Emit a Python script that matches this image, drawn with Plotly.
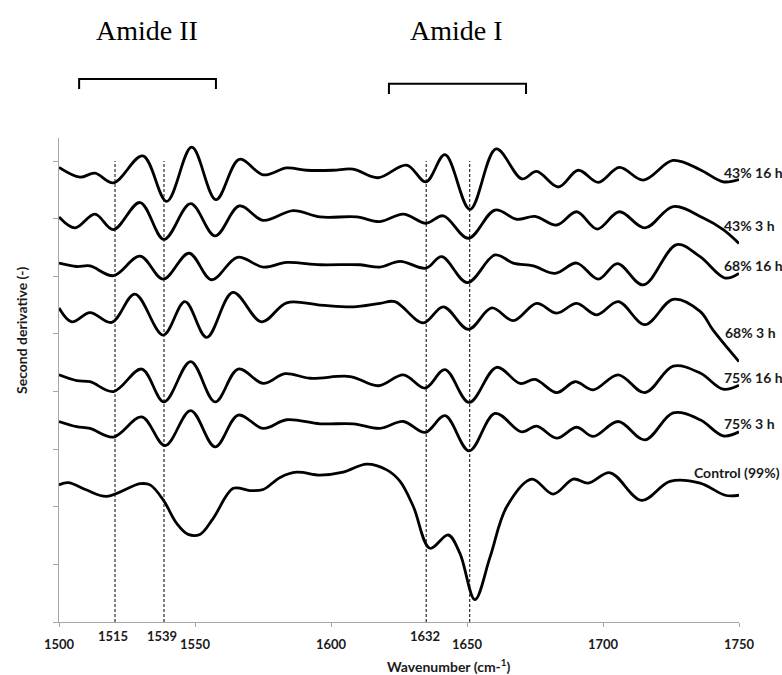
import plotly.graph_objects as go

# ---------------- data (wavenumber, cm-1 ; offset second-derivative, a.u.) ----------------
wn_43_16 = [1500, 1507.7, 1513.2, 1520, 1530.8, 1539.6, 1548.8, 1557.7, 1566.3, 1575.1, 1583.7, 1591.1,
            1600.7, 1608.1, 1617.3, 1627.8, 1634.9, 1641.9, 1651.1, 1660.7, 1670.2, 1675.6, 1683.6,
            1690.9, 1698.3, 1706, 1714.8, 1725.7, 1735.7, 1744.2, 1750]
y_43_16 = [7.89, 7.72, 7.79, 7.62, 8.09, 7.30, 8.24, 7.33, 8.03, 7.76, 7.88, 7.84,
           7.84, 7.86, 7.71, 7.93, 7.64, 8.11, 7.16, 8.21, 7.69, 7.82, 7.55,
           7.84, 7.63, 7.89, 7.67, 8.01, 7.85, 7.64, 7.68]

wn_43_3 = [1500, 1505.9, 1513.2, 1520, 1529.8, 1538.6, 1548.4, 1557.4, 1566.3, 1575.1, 1586.1, 1596,
           1609.4, 1618, 1626.6, 1634.9, 1641.3, 1650.5, 1660.3, 1668.3, 1675, 1683, 1690.3, 1697.9,
           1706, 1715.4, 1725.8, 1736.9, 1744.2, 1750]
y_43_3 = [7.03, 6.84, 7.08, 6.81, 7.28, 6.64, 7.26, 6.70, 7.22, 6.97, 7.14, 7.03,
          7.03, 6.95, 7.08, 6.92, 7.05, 6.66, 7.15, 6.99, 7.04, 6.89, 7.12, 6.82,
          7.12, 6.84, 7.21, 7.01, 6.81, 6.57]

wn_68_16 = [1500, 1506.5, 1511.4, 1520, 1529.8, 1538.3, 1547.8, 1556.1, 1565.6, 1575.1, 1583.7, 1596,
            1610.7, 1618, 1625.4, 1634.9, 1640.7, 1650.1, 1660.3, 1667, 1674.4, 1682.4, 1690.3, 1698.3,
            1705.3, 1714.8, 1727.1, 1735.7, 1744.9, 1750]
y_68_16 = [6.23, 6.17, 6.18, 6.01, 6.35, 5.95, 6.40, 5.94, 6.33, 6.16, 6.24, 6.20,
           6.20, 6.16, 6.26, 6.14, 6.34, 5.89, 6.37, 6.23, 6.18, 6.05, 6.23, 5.95,
           6.22, 5.85, 6.55, 6.34, 5.97, 6.05]

wn_68_3 = [1500, 1504.7, 1511.4, 1519.4, 1527.9, 1538.3, 1546.3, 1554.3, 1563.9, 1574.5, 1583.7, 1596,
           1608.2, 1618, 1623.5, 1633.9, 1641.3, 1650.5, 1659.1, 1667, 1675.6, 1683, 1690.3, 1697.7,
           1705.6, 1715.4, 1725.8, 1735.7, 1740.4, 1750]
y_68_3 = [5.45, 5.21, 5.37, 5.20, 5.69, 4.98, 5.56, 4.94, 5.72, 5.21, 5.54, 5.50,
          5.47, 5.53, 5.56, 5.19, 5.47, 5.08, 5.45, 5.23, 5.53, 5.36, 5.53, 5.33,
          5.56, 5.16, 5.60, 5.39, 5.07, 4.52]

wn_75_16 = [1500, 1506.5, 1511.4, 1520, 1530.4, 1538.6, 1548.4, 1557.4, 1565.9, 1575.1, 1583.1, 1592.3,
            1607, 1617.4, 1626.6, 1634.6, 1641.9, 1650.8, 1660.9, 1669.5, 1675, 1683, 1689.7, 1696.4,
            1705.6, 1715.4, 1725.8, 1735.7, 1744.2, 1750]
y_75_16 = [4.29, 4.19, 4.17, 4.00, 4.39, 3.82, 4.52, 3.82, 4.39, 4.14, 4.31, 4.23,
           4.26, 4.10, 4.29, 4.06, 4.38, 3.81, 4.42, 4.14, 4.21, 3.98, 4.17, 4.03,
           4.29, 3.98, 4.44, 4.32, 4.04, 4.11]

wn_75_3 = [1500, 1506.5, 1511.4, 1520, 1530.4, 1539, 1548.4, 1557.4, 1565.9, 1575.1, 1583.7, 1596,
           1608.2, 1618, 1626.6, 1634.6, 1641.9, 1650.8, 1660.3, 1670.1, 1675.6, 1683, 1690.3, 1696.4,
           1705.6, 1715.4, 1725.8, 1735.7, 1744.2, 1750]
y_75_3 = [3.48, 3.39, 3.36, 3.21, 3.56, 3.06, 3.67, 3.04, 3.59, 3.36, 3.51, 3.44,
          3.44, 3.36, 3.48, 3.29, 3.58, 2.97, 3.62, 3.30, 3.40, 3.19, 3.38, 3.22,
          3.48, 3.16, 3.63, 3.51, 3.23, 3.30]

wn_ctrl = [1500, 1503.4, 1510.2, 1517.5, 1529.8, 1533.5, 1538.3, 1543.3, 1547.5, 1551.8, 1556.7, 1564.1,
           1570.2, 1575.1, 1581.3, 1587.4, 1596, 1604.5, 1613.1, 1620.5, 1625.4, 1630.3, 1636.4, 1643.1,
           1647.4, 1652.9, 1658.5, 1664.6, 1673.8, 1681.7, 1689.1, 1694.6, 1702.6, 1714.2, 1724.6,
           1735.7, 1744.9, 1750]
y_ctrl = [2.38, 2.42, 2.29, 2.18, 2.40, 2.38, 2.12, 1.71, 1.52, 1.52, 1.80, 2.32,
          2.28, 2.30, 2.51, 2.60, 2.55, 2.60, 2.74, 2.64, 2.44, 2.00, 1.28, 1.51,
          1.19, 0.39, 1.13, 2.00, 2.48, 2.22, 2.48, 2.41, 2.59, 2.11, 2.44,
          2.41, 2.20, 2.20]

series_names = ["43% 16 h", "43% 3 h", "68% 16 h", "68% 3 h", "75% 16 h", "75% 3 h", "Control (99%)"]
series_x = [wn_43_16, wn_43_3, wn_68_16, wn_68_3, wn_75_16, wn_75_3, wn_ctrl]
series_y = [y_43_16, y_43_3, y_68_16, y_68_3, y_75_16, y_75_3, y_ctrl]
label_y = [7.80, 6.89, 6.18, 5.02, 4.25, 3.45, 2.59]
label_x = [1743.8, 1743.8, 1743.8, 1744.2, 1743.8, 1743.8, 1732.7]

marker_wn = [1520.6, 1538.6, 1635.0, 1651.0]
marker_labels = ["1515", "1539", "1632"]
marker_label_x = [1519.7, 1537.7, 1634.4]

x_ticks = [1500, 1550, 1600, 1650, 1700, 1750]

FONT = "Lato"
TXT = "#1a1a1a"

# ---------------- figure ----------------
fig = go.Figure()
for nm, xs, ys in zip(series_names, series_x, series_y):
    fig.add_trace(go.Scatter(x=xs, y=ys, mode="lines", name=nm,
                             line=dict(color="black", width=2.8, shape="spline", smoothing=1.0),
                             showlegend=False, hoverinfo="skip"))

for xv in marker_wn:
    fig.add_shape(type="line", xref="x", yref="y", x0=xv, x1=xv, y0=0, y1=8.0,
                  line=dict(color="black", width=1, dash="3px,2px"), layer="below")

annots = []
for nm, lx, ly in zip(series_names, label_x, label_y):
    annots.append(dict(x=lx, y=ly, xref="x", yref="y", text=nm, showarrow=False,
                       xanchor="left", yanchor="middle",
                       font=dict(family=FONT, size=14, color=TXT, weight="bold")))
for txt, lx in zip(marker_labels, marker_label_x):
    annots.append(dict(x=lx, y=-0.029, xref="x", yref="paper", text=txt, showarrow=False,
                       xanchor="center", yanchor="middle",
                       font=dict(family=FONT, size=13, color=TXT, weight="bold")))
# axis titles
annots.append(dict(x=1643.4, y=-0.089, xref="x", yref="paper", text="Wavenumber (cm-<sup>1</sup>)",
                   showarrow=False, xanchor="center", yanchor="middle",
                   font=dict(family=FONT, size=14, color=TXT, weight="bold")))
annots.append(dict(x=(21 - 59) / 680, y=(622 - 330) / 484, xref="paper", yref="paper",
                   text="Second derivative (-)", showarrow=False, textangle=-90,
                   xanchor="center", yanchor="middle",
                   font=dict(family=FONT, size=14, color=TXT, weight="bold")))

# Amide region labels
annots.append(dict(x=1532.4, y=1.223, xref="x", yref="paper", text="Amide II", showarrow=False,
                   xanchor="center", yanchor="middle",
                   font=dict(family="Liberation Serif", size=28, color="black")))
annots.append(dict(x=1646.3, y=1.223, xref="x", yref="paper", text="Amide I", showarrow=False,
                   xanchor="center", yanchor="middle",
                   font=dict(family="Liberation Serif", size=28, color="black")))

# brackets
for (xa, xb, ytop, ybot) in [(1507.4, 1557.7, 1.122, 1.101), (1621.3, 1671.7, 1.112, 1.091)]:
    fig.add_shape(type="path", xref="x", yref="paper",
                  path=f"M {xa},{ybot} L {xa},{ytop} L {xb},{ytop} L {xb},{ybot}",
                  line=dict(color="black", width=2))

fig.update_layout(
    width=782, height=675,
    margin=dict(l=59, r=43, t=138, b=53),
    plot_bgcolor="white", paper_bgcolor="white",
    annotations=annots,
    xaxis=dict(range=[1500, 1750], tickvals=x_ticks, ticktext=[str(v) for v in x_ticks],
               showline=True, linecolor="#a6a6a6", linewidth=1.3, ticks="outside",
               ticklen=4, tickcolor="#a6a6a6", showgrid=False, zeroline=False,
               ticklabelstandoff=6,
               tickfont=dict(family=FONT, size=13, color=TXT, weight="bold")),
    yaxis=dict(range=[0, 8.4], dtick=1, tick0=0, showticklabels=False, showline=True,
               linecolor="#a6a6a6", linewidth=1.3, ticks="outside", ticklen=5,
               tickcolor="#a6a6a6", showgrid=False, zeroline=False),
)

# remove the default page margin so the figure fills the window exactly
fig.write_html("out.html", config={"displayModeBar": False},
               post_script="document.body.style.margin='0';document.body.style.overflow='hidden';")
